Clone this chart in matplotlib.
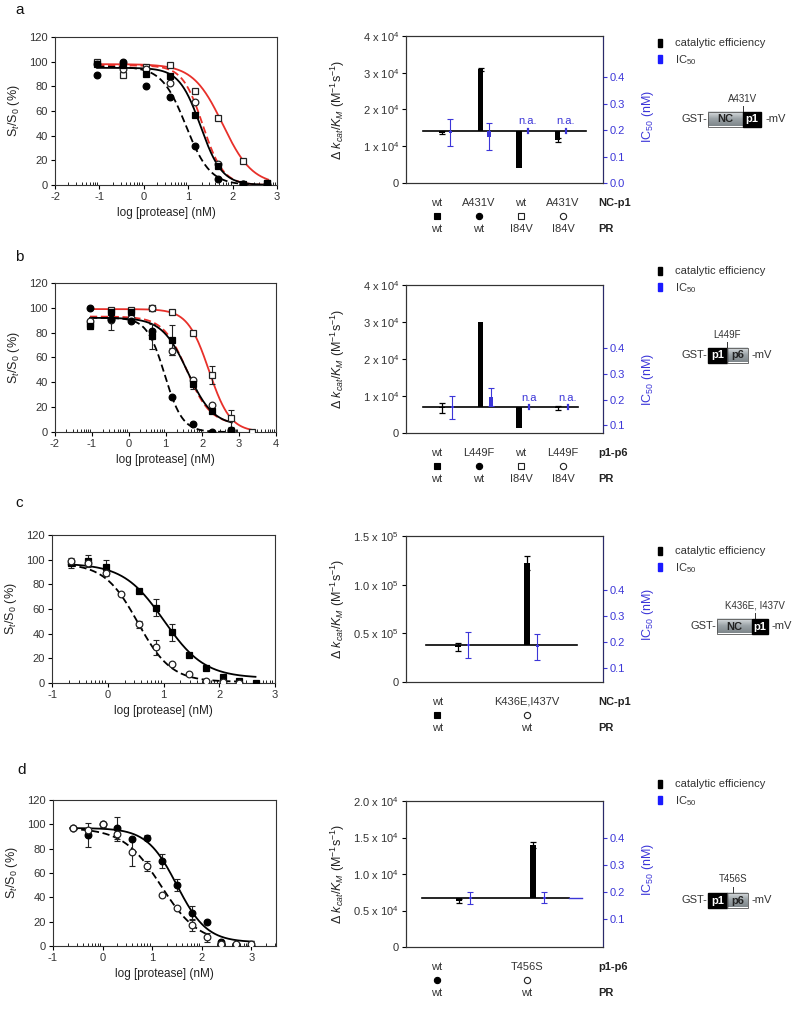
import numpy as np
import matplotlib
matplotlib.use('Agg')
import matplotlib.pyplot as plt
from matplotlib.patches import Rectangle
from matplotlib.colors import LinearSegmentedColormap
from matplotlib.transforms import blended_transform_factory

plt.rcParams['font.family'] = ['Liberation Sans', 'DejaVu Sans']
plt.rcParams['mathtext.fontset'] = 'custom'
plt.rcParams['mathtext.rm'] = 'Liberation Sans'
plt.rcParams['mathtext.it'] = 'Liberation Sans:italic'
plt.rcParams['mathtext.bf'] = 'Liberation Sans:bold'

# ---------------- DATA ----------------
# panel a : dose response (log [protease] nM vs St/S0 %)
a_x = [-1.05, -0.47, 0.05, 0.6, 1.15, 1.68, 2.23, 2.78]
a_wt_wt = [98, 97, 90, 88, 57, 15, 0.5, 1.5]
a_mut_wt = [89, 100, 80, 71, 32, 5, 0.5, 0]
a_wt_i84v = [100, 89, 96, 97, 76, 54, 19.5, 2]
a_mut_i84v = [98, 94, 94, 83, 67, 17, 0.5, 0.5]
# fit params: top, bottom, logIC50, hill
a_fit_wt_wt = [95, 0, 1.28, 1.8]
a_fit_mut_wt = [96, 0, 0.95, 1.6]
a_fit_wt_i84v = [98, 0, 1.78, 1.3]
a_fit_mut_i84v = [97, 0, 1.33, 1.9]

# panel b
b_x = [-1.04, -0.47, 0.05, 0.62, 1.18, 1.74, 2.25, 2.78, 3.35]
b_wt_wt = [85, 97, 97, 77, 74, 39, 17, 0.5]
b_wt_wt_err = [2, 0, 0, 10, 12, 4, 0, 0]
b_mut_wt = [100, 91, 89, 81, 28, 6.7, 0, 1.3]
b_mut_wt_err = [0, 9, 0, 0, 0, 0, 0, 0]
b_wt_i84v = [87, 98, 98, 99.7, 97, 80, 46, 11, 0]
b_wt_i84v_err = [0, 0, 0, 0, 0, 0, 7, 7, 0]
b_mut_i84v = [89, 90, 92, 100, 65, 42, 22, 1]
b_mut_i84v_err = [0, 0, 0, 0, 3, 0, 0, 0]
b_fit_wt_wt = [92, 5, 1.60, 1.25]
b_fit_mut_wt = [92, 0, 0.98, 1.8]
b_fit_wt_i84v = [99, 0, 2.18, 1.5]
b_fit_mut_i84v = [93, 6, 1.58, 1.35]

# panel c
c_x_sq = [-0.66, -0.36, -0.04, 0.56, 0.86, 1.16, 1.46, 1.76, 2.06, 2.36, 2.66]
c_wt_wt = [97, 99, 94, 74.5, 61, 41, 23, 12, 5, 2, 0]
c_wt_wt_err = [4, 5, 6, 0, 7, 7, 0, 0, 0, 0, 0]
c_x_ci = [-0.66, -0.36, -0.04, 0.23, 0.56, 0.86, 1.16, 1.46, 1.76, 2.06, 2.36]
c_mut_wt = [99, 97, 89.5, 72, 47.5, 29, 15.7, 7, 1.4, 0.8, 0]
c_mut_wt_err = [0, 0, 3, 0, 3, 6, 0, 0, 0, 0, 0]
c_fit_wt_wt = [97, 4, 1.01, 1.19]
c_fit_mut_wt = [97, 1, 0.54, 1.45]

# panel d
d_x = [-0.6, -0.3, 0.0, 0.3, 0.6, 0.9, 1.2, 1.5, 1.8, 2.1, 2.4, 2.7, 3.0]
d_wt_wt = [97, 91, 100, 97, 88, 89, 70, 50, 27, 20, 3, 0, 0]
d_wt_wt_err = [0, 10, 2, 9, 0, 2, 6, 5, 6, 0, 0, 0, 0]
d_mut_wt = [97, 95, 100, 92, 77, 66, 42, 31, 17, 7, 2, 2, 2]
d_mut_wt_err = [0, 0, 0, 6, 11, 4, 0, 0, 5, 4, 0, 0, 0]
d_fit_wt_wt = [97, 3, 1.50, 1.43]
d_fit_mut_wt = [97, 2, 1.18, 1.14]

# bar charts: delta kcat/KM (left axis) and IC50 (nM, right axis)
a_cat_labels = ['wt', 'A431V', 'wt', 'A431V']
a_pr_labels = ['wt', 'wt', 'I84V', 'I84V']
a_kcat_base = 1.415            # x 10^4
a_kcat = [1.37, 3.10, 0.42, 1.17]
a_kcat_err = [0.04, 0.04, 0.0, 0.06]
a_ic50_base = 0.196
a_ic50 = [0.19, 0.175, None, None]
a_ic50_err = [0.05, 0.05, 0, 0]

b_cat_labels = ['wt', 'L449F', 'wt', 'L449F']
b_pr_labels = ['wt', 'wt', 'I84V', 'I84V']
b_kcat_base = 0.707
b_kcat = [0.67, 3.00, 0.14, 0.68]
b_kcat_err = [0.13, 0.0, 0.0, 0.05]
b_ic50_base = 0.17
b_ic50 = [0.17, 0.21, None, None]
b_ic50_err = [0.045, 0.035, 0, 0]

c_cat_labels = ['wt', 'K436E,I437V']
c_pr_labels = ['wt', 'wt']
c_kcat_base = 0.38             # x 10^5
c_kcat = [0.36, 1.22]
c_kcat_err = [0.04, 0.07]
c_ic50_base = 0.188
c_ic50 = [0.188, 0.18]
c_ic50_err = [0.05, 0.05]

d_cat_labels = ['wt', 'T456S']
d_pr_labels = ['wt', 'wt']
d_kcat_base = 0.67             # x 10^4
d_kcat = [0.63, 1.40]
d_kcat_err = [0.03, 0.04]
d_ic50_base = 0.178
d_ic50 = [0.178, 0.18]
d_ic50_err = [0.022, 0.02]

# ---------------- STYLE ----------------
W, H = 800, 1010
fig = plt.figure(figsize=(8, 10.1), dpi=100)
TXT = '#333333'
BLUE = '#3c36d8'
RED = '#e8302a'
FS = 8

def px_axes(l, t, r, b):
    return fig.add_axes([l / W, 1 - b / H, (r - l) / W, (b - t) / H])

def logistic(x, p):
    top, bot, x50, h = p
    return bot + (top - bot) / (1 + 10 ** ((x - x50) * h))

MK = {'sqf': dict(marker='s', mfc='black', mec='black'),
      'cif': dict(marker='o', mfc='black', mec='black'),
      'sqo': dict(marker='s', mfc='white', mec='#222222'),
      'cio': dict(marker='o', mfc='white', mec='#222222')}

def dose_panel(box, xlim, xticks, curves, series):
    ax = px_axes(*box)
    for p, color, ls, x0, x1 in curves:
        xx = np.linspace(x0, x1, 300)
        ax.plot(xx, logistic(xx, p), color=color, ls=ls, lw=1.3,
                dashes=(4, 2) if ls == '--' else (None, None), zorder=2)
    for x, y, e, m in series:
        if e is not None:
            ax.errorbar(x, y, yerr=e, fmt='none', ecolor='#222222', elinewidth=0.8,
                        capsize=2.5, capthick=0.8, zorder=3)
        ax.plot(x, y, ls='none', ms=4.8, mew=0.9, zorder=4, **MK[m])
    ax.set_xlim(*xlim)
    ax.set_ylim(0, 120)
    ax.set_xticks(xticks)
    ax.set_xticklabels([str(t) for t in xticks])
    minors = [i + np.log10(k) for i in range(int(xlim[0]), int(np.ceil(xlim[1])))
              for k in range(2, 10) if i + np.log10(k) < xlim[1]]
    ax.set_xticks(minors, minor=True)
    ax.set_yticks(range(0, 121, 20))
    ax.tick_params(axis='x', which='major', direction='out', length=3, width=0.8,
                   labelsize=FS, labelcolor=TXT, pad=2)
    ax.tick_params(axis='x', which='minor', direction='in', length=2.5, width=0.6)
    ax.tick_params(axis='y', direction='out', length=3, width=0.8, labelsize=FS,
                   labelcolor=TXT, pad=2)
    for s in ax.spines.values():
        s.set_linewidth(0.8)
        s.set_color('#333333')
    ax.set_ylabel('S$_t$/S$_0$ (%)', fontsize=9, color='#222222')
    ax.yaxis.set_label_coords(-0.15, 0.5)
    ax.set_xlabel('log [protease] (nM)', fontsize=8.5, color='#222222')
    ax.xaxis.set_label_coords(0.5, -0.15)
    return ax

def bar_panel(box, lay, base, vals, errs, ylim, yticks, yticklabels,
              icbase, icvals, icerrs, icylim, icticks, cats, prs, mutlabel,
              markers, na_texts, iclabel_y):
    ax = px_axes(*box)
    ax2 = ax.twinx()
    n = len(vals)
    xs = np.arange(n)
    bw = 0.14 * lay['scale']
    ax.plot(lay['line'], [base, base], color='black', lw=1.2, zorder=3)
    if lay.get('blue_line'):
        ax2.plot(lay['blue_line'], [icbase, icbase], color=BLUE, lw=1.0, zorder=3)
    for i in range(n):
        ax.bar(xs[i], vals[i] - base, bottom=base, width=bw, color='black', zorder=4)
        if errs[i] > 0:
            ax.errorbar(xs[i], vals[i], yerr=errs[i], fmt='none', ecolor='black',
                        elinewidth=0.9, capsize=2.2, capthick=0.9, zorder=5)
    for i in range(n):
        xb = xs[i] + lay['boff']
        if icvals[i] is None:
            ax2.plot([xb, xb], [icbase - 0.008, icbase + 0.008], color=BLUE, lw=1.6, zorder=5)
            ax2.text(xb, icbase + 0.018, na_texts[i], color=BLUE, fontsize=FS,
                     ha='center', va='bottom')
        else:
            h = icvals[i] - icbase
            if abs(h) < 0.004:
                h = 0.008 if h >= 0 else -0.008
                b0 = icbase - 0.004
            else:
                b0 = icbase
            ax2.bar(xb, h, bottom=b0, width=0.09 * lay['scale'], color=BLUE, zorder=5)
            ax2.errorbar(xb, icvals[i], yerr=icerrs[i], fmt='none', ecolor=BLUE,
                         elinewidth=0.8, capsize=2.2, capthick=0.8, zorder=6)
    ax.set_xlim(*lay['xlim'])
    ax.set_ylim(*ylim)
    ax.set_yticks(yticks)
    ax.set_yticklabels(yticklabels)
    ax.set_xticks([])
    ax.tick_params(axis='y', direction='out', length=3, width=0.8, labelsize=FS,
                   labelcolor=TXT, pad=2)
    ax2.set_ylim(*icylim)
    ax2.set_yticks(icticks)
    ax2.set_yticklabels(['%.1f' % t for t in icticks])
    ax2.tick_params(axis='y', direction='out', length=3, width=0.8, labelsize=FS,
                    labelcolor=BLUE, color=BLUE, pad=2)
    for a in (ax, ax2):
        for s in a.spines.values():
            s.set_linewidth(0.8)
            s.set_color('#333333')
    ax2.spines['right'].set_color('#2a2a6a')
    ax.set_ylabel(r'$\Delta$ $k_{cat}$/$K_M$ (M$^{-1}$s$^{-1}$)', fontsize=9, color='#222222')
    ax.yaxis.set_label_coords(-0.30, 0.5)
    ax2.set_ylabel('IC$_{50}$ (nM)', fontsize=9, color=BLUE)
    ax2.yaxis.set_label_coords(1.19, iclabel_y)
    # category labels below
    hpx = box[3] - box[1]
    tr = blended_transform_factory(ax.transData, ax.transAxes)
    tra = ax.transAxes
    for i in range(n):
        lx = lay['labx'][i]
        ax.text(lx, -20 / hpx, cats[i], transform=tr, ha='center', va='center',
                fontsize=FS, color=TXT, clip_on=False)
        ax.plot([lx], [-33 / hpx], transform=tr, clip_on=False, ls='none', ms=4.5,
                mew=0.8, **MK[markers[i]])
        ax.text(lx, -46 / hpx, prs[i], transform=tr, ha='center', va='center',
                fontsize=FS, color=TXT, clip_on=False)
    ax.text(0.975, -20 / hpx, mutlabel, transform=tra, ha='left', va='center',
            fontsize=FS, fontweight='bold', color='#222222', clip_on=False)
    ax.text(0.975, -46 / hpx, 'PR', transform=tra, ha='left', va='center',
            fontsize=FS, fontweight='bold', color='#222222', clip_on=False)
    return ax, ax2

# ---------------- PANELS ----------------
# a
dose_panel((55, 37, 277, 185), (-2, 3), [-2, -1, 0, 1, 2, 3],
           [(a_fit_wt_i84v, RED, '-', -1.05, 2.8), (a_fit_mut_i84v, RED, '--', -1.05, 2.8),
            (a_fit_wt_wt, 'black', '-', -1.05, 2.8), (a_fit_mut_wt, 'black', '--', -1.05, 2.8)],
           [(a_x, a_wt_i84v, None, 'sqo'), (a_x, a_mut_i84v, None, 'cio'),
            (a_x, a_wt_wt, None, 'sqf'), (a_x, a_mut_wt, None, 'cif')])
lay_ab = dict(xlim=(-0.935, 4.18), scale=1.0, boff=0.22, line=(-0.49, 3.74),
              labx=[-0.13 + 1.09 * i for i in range(4)])
bar_panel((406, 36, 603, 183), lay_ab, a_kcat_base, a_kcat, a_kcat_err, (0, 4), [0, 1, 2, 3, 4],
          ['0', '1 x 10$^4$', '2 x 10$^4$', '3 x 10$^4$', '4 x 10$^4$'],
          a_ic50_base, a_ic50, a_ic50_err, (0, 0.555), [0, 0.1, 0.2, 0.3, 0.4],
          a_cat_labels, a_pr_labels, 'NC-p1', ['sqf', 'cif', 'sqo', 'cio'],
          ['', '', 'n.a.', 'n.a.'], 0.45)

# b
dose_panel((55, 283, 276, 432), (-2, 4), [-2, -1, 0, 1, 2, 3, 4],
           [(b_fit_wt_i84v, RED, '-', -1.05, 3.35), (b_fit_mut_i84v, RED, '--', -1.05, 2.8),
            (b_fit_wt_wt, 'black', '-', -1.05, 2.8), (b_fit_mut_wt, 'black', '--', -1.05, 2.8)],
           [(b_x, b_wt_i84v, b_wt_i84v_err, 'sqo'), (b_x[:8], b_mut_i84v, b_mut_i84v_err, 'cio'),
            (b_x[:8], b_wt_wt, b_wt_wt_err, 'sqf'), (b_x[:8], b_mut_wt, b_mut_wt_err, 'cif')])
lay_b = dict(xlim=(-0.935, 4.18), scale=1.0, boff=0.27, line=(-0.49, 3.53),
             labx=[-0.13 + 1.09 * i for i in range(4)])
bar_panel((406, 285, 603, 433), lay_b, b_kcat_base, b_kcat, b_kcat_err, (0, 4), [0, 1, 2, 3, 4],
          ['0', '1 x 10$^4$', '2 x 10$^4$', '3 x 10$^4$', '4 x 10$^4$'],
          b_ic50_base, b_ic50, b_ic50_err, (0.07, 0.645), [0.1, 0.2, 0.3, 0.4],
          b_cat_labels, b_pr_labels, 'p1-p6', ['sqf', 'cif', 'sqo', 'cio'],
          ['', '', 'n.a', 'n.a.'], 0.36)

# c
dose_panel((52, 535, 275, 683), (-1, 3), [-1, 0, 1, 2, 3],
           [(c_fit_wt_wt, 'black', '-', -0.7, 2.65), (c_fit_mut_wt, 'black', '--', -0.7, 2.3)],
           [(c_x_sq, c_wt_wt, c_wt_wt_err, 'sqf'), (c_x_ci, c_mut_wt, c_mut_wt_err, 'cio')])
lay_c = dict(xlim=(-0.754, 2.10), scale=0.56, boff=0.15, line=(-0.46, 1.72),
             labx=[-0.30, 1.0])
bar_panel((406, 536, 603, 682), lay_c, c_kcat_base, c_kcat, c_kcat_err, (0, 1.5),
          [0, 0.5, 1.0, 1.5],
          ['0', '0.5 x 10$^5$', '1.0 x 10$^5$', '1.5 x 10$^5$'],
          c_ic50_base, c_ic50, c_ic50_err, (0.046, 0.608), [0.1, 0.2, 0.3, 0.4],
          c_cat_labels, c_pr_labels, 'NC-p1', ['sqf', 'cio'], ['', ''], 0.46)

# d
dose_panel((53, 800, 276, 946), (-1, 3.5), [-1, 0, 1, 2, 3],
           [(d_fit_wt_wt, 'black', '-', -0.65, 3.05), (d_fit_mut_wt, 'black', '--', -0.65, 2.1)],
           [(d_x, d_wt_wt, d_wt_wt_err, 'cif'), (d_x, d_mut_wt, d_mut_wt_err, 'cio')])
lay_d = dict(xlim=(-0.716, 1.946), scale=0.52, boff=0.155, line=(-0.50, 1.49),
             blue_line=(1.49, 1.66), labx=[-0.30, 0.92])
bar_panel((406, 801, 603, 947), lay_d, d_kcat_base, d_kcat, d_kcat_err, (0, 2.0),
          [0, 0.5, 1.0, 1.5, 2.0],
          ['0', '0.5 x 10$^4$', '1.0 x 10$^4$', '1.5 x 10$^4$', '2.0 x 10$^4$'],
          d_ic50_base, d_ic50, d_ic50_err, (-0.004, 0.537), [0.1, 0.2, 0.3, 0.4],
          d_cat_labels, d_pr_labels, 'p1-p6', ['cif', 'cio'], ['', ''], 0.53)

# ---------------- OVERLAY (letters, legends, constructs) ----------------
ov = fig.add_axes([0, 0, 1, 1])
ov.set_xlim(0, W)
ov.set_ylim(H, 0)
ov.axis('off')
ov.patch.set_alpha(0)

for letter, (lx, ly) in zip('abcd', [(15, 10), (15, 257), (15, 503), (17, 770)]):
    ov.text(lx, ly, letter, fontsize=11, color='#111111', ha='left', va='center')

for ly in [43, 271, 551, 784]:
    ov.add_patch(Rectangle((658, ly - 4), 3.5, 8, color='black'))
    ov.text(675, ly, 'catalytic efficiency', fontsize=FS, color=TXT, va='center')
    ov.add_patch(Rectangle((658, ly + 12), 3.5, 8, color='#1a1aff'))
    ov.text(675, ly + 17, 'IC$_{50}$', fontsize=FS, color=TXT, va='center')

gcmap = LinearSegmentedColormap.from_list('g', ['#dfe3e5', '#9ca4a8', '#7e868a'])
grad = np.linspace(0, 1, 64).reshape(-1, 1)

def gray_box(x0, x1, y0, y1, label):
    ov.imshow(grad, extent=(x0, x1, y1, y0), cmap=gcmap, aspect='auto', zorder=2)
    ov.add_patch(Rectangle((x0, y0), x1 - x0, y1 - y0, fill=False, ec='#555555', lw=0.6, zorder=3))
    ov.text((x0 + x1) / 2, (y0 + y1) / 2 + 0.5, label, fontsize=FS, fontweight='bold',
            color='#222222', ha='center', va='center', zorder=4)

def black_box(x0, x1, y0, y1, label):
    ov.add_patch(Rectangle((x0, y0), x1 - x0, y1 - y0, color='black', zorder=3))
    ov.text((x0 + x1) / 2, (y0 + y1) / 2 + 0.5, label, fontsize=FS, fontweight='bold',
            color='white', ha='center', va='center', zorder=4)

def construct(yc, parts, xstart, mut, mutx):
    y0, y1 = yc - 7.5, yc + 7.5
    ov.text(xstart - 1, yc, 'GST-', fontsize=FS, color=TXT, ha='right', va='center')
    x = xstart
    for kind, w, lab in parts:
        if kind == 'g':
            gray_box(x, x + w, y0, y1, lab)
        else:
            black_box(x, x + w, y0, y1, lab)
        x += w
    ov.text(x + 4, yc, '-mV', fontsize=FS, color=TXT, ha='left', va='center')
    ov.plot([mutx, mutx], [y0 - 6, y0], color='#333333', lw=0.7)
    ov.text(mutx, y0 - 13, mut, fontsize=7, color=TXT, ha='center', va='center')

construct(119, [('g', 35, 'NC'), ('b', 18, 'p1')], 708, 'A431V', 743)
construct(355, [('b', 19, 'p1'), ('g', 21, 'p6')], 708, 'L449F', 727)
construct(626, [('g', 35, 'NC'), ('b', 16, 'p1')], 717, 'K436E, I437V', 755)
construct(900, [('b', 19, 'p1'), ('g', 21, 'p6')], 708, 'T456S', 733)

ov.set_xlim(0, W)
ov.set_ylim(H, 0)

fig.savefig('out.png', dpi=100)
